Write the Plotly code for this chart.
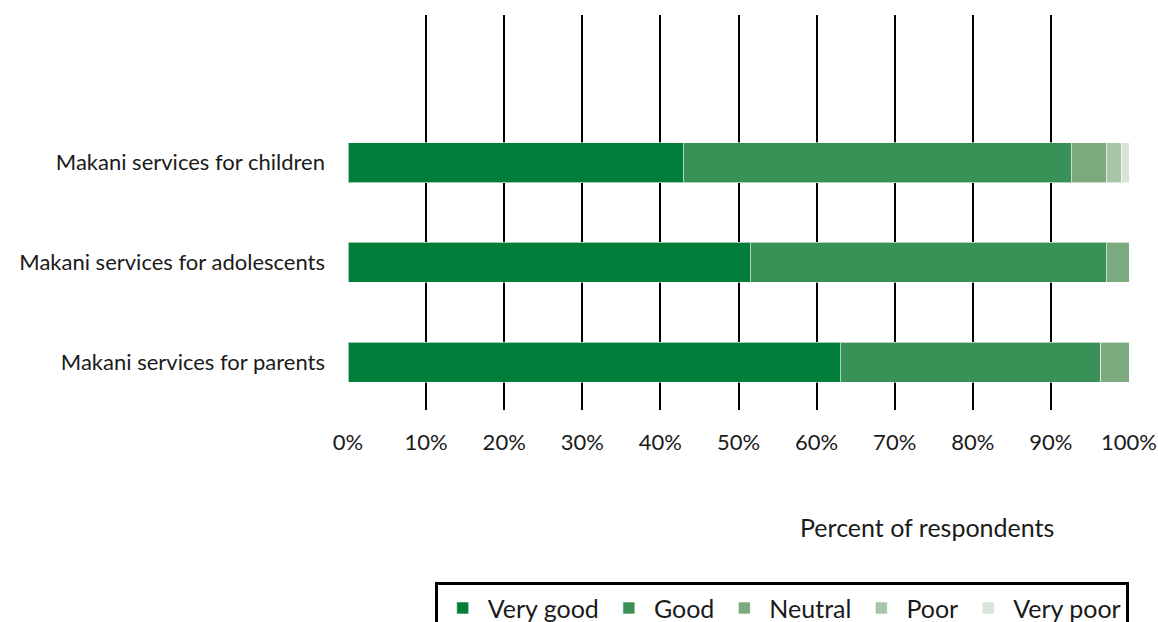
import plotly.graph_objects as go

categories = ["Makani services for parents", "Makani services for adolescents", "Makani services for children"]
series_names = ["Very good", "Good", "Neutral", "Poor", "Very poor"]
very_good = [63.0, 51.5, 42.9]
good = [33.4, 45.6, 49.7]
neutral = [3.6, 2.9, 4.5]
poor = [0.0, 0.0, 1.9]
very_poor = [0.0, 0.0, 1.0]
tick_values = [0, 10, 20, 30, 40, 50, 60, 70, 80, 90, 100]
tick_labels = ["0%", "10%", "20%", "30%", "40%", "50%", "60%", "70%", "80%", "90%", "100%"]

colors = ["#007E3A", "#3A9157", "#7AAA7E", "#A8C5A7", "#D8E4D7"]
values = [very_good, good, neutral, poor, very_poor]

FONT = "Lato"

fig = go.Figure()
for name, vals, col in zip(series_names, values, colors):
    fig.add_trace(go.Bar(
        y=categories, x=vals, name=name, orientation="h",
        marker=dict(color=col, line=dict(color="rgba(255,255,255,0.6)", width=1)),
        width=0.4, hoverinfo="x+name",
    ))

# invisible trace on the grid axis so it renders
fig.add_trace(go.Scatter(x=[0, 100], y=[categories[0], categories[0]], xaxis="x2",
                         mode="markers", marker=dict(opacity=0), showlegend=False, hoverinfo="skip"))

fig.update_layout(
    barmode="stack",
    width=1158, height=622,
    margin=dict(l=348, r=29, t=15, b=212, autoexpand=False),
    paper_bgcolor="white", plot_bgcolor="white",
    font=dict(family=FONT, size=22, color="#1a1a1a"),
    xaxis=dict(range=[0, 100], tickvals=tick_values, ticktext=tick_labels,
               showgrid=False, zeroline=False, showline=False, automargin=False,
               ticks="", ticklabelstandoff=17, tickfont=dict(size=22, family=FONT)),
    xaxis2=dict(range=[0, 100], overlaying="x", side="bottom", tickvals=tick_values[1:],
                showgrid=True, gridcolor="black", gridwidth=2, showticklabels=False,
                zeroline=False, showline=False, ticks="", layer="below traces", automargin=False),
    yaxis=dict(type="category", categoryarray=categories, categoryorder="array",
               range=[-0.48, 3.48], showgrid=False, zeroline=False, showline=False,
               automargin=False,
               ticks="", ticklabelstandoff=22, tickfont=dict(size=22, family=FONT)),
    legend=dict(orientation="h", x=0.111, xanchor="left", y=-0.436, yanchor="top",
                bordercolor="black", borderwidth=3, font=dict(size=25, family=FONT),
                itemwidth=40,
                traceorder="normal", itemclick=False, itemdoubleclick=False),
    annotations=[dict(text="Percent of respondents", xref="paper", yref="paper",
                      x=0.741, y=-0.296, xanchor="center", yanchor="middle",
                      showarrow=False, font=dict(size=25, family=FONT))],
    showlegend=True,
)

fig.write_html("out.html")
